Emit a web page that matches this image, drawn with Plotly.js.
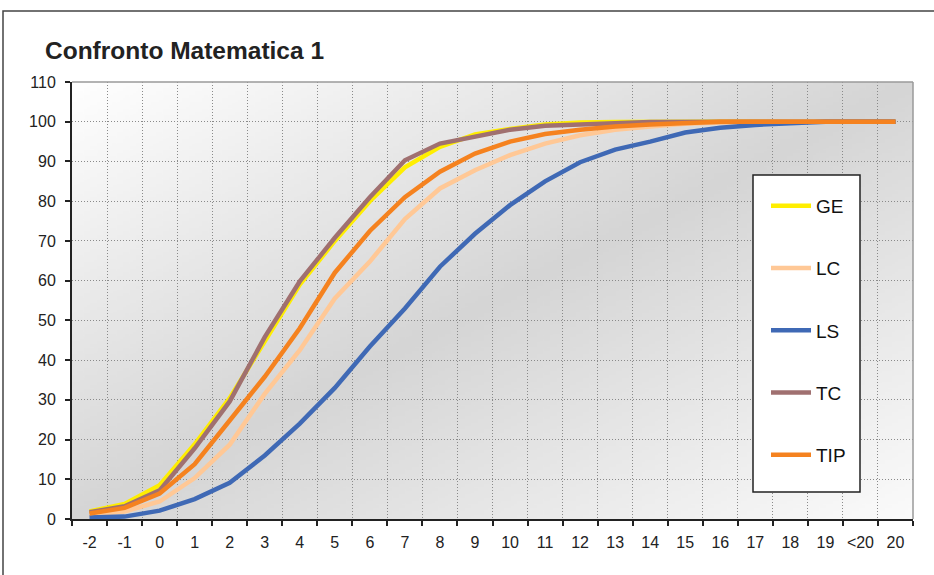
<!DOCTYPE html>
<html>
<head>
<meta charset="utf-8">
<script src="https://cdn.plot.ly/plotly-3.0.1.min.js"></script>
<style>
  html, body { margin: 0; padding: 0; background: #ffffff; }
  #chart { width: 934px; height: 575px; }
</style>
</head>
<body>
<div id="chart"></div>
<script>
// ---- Data ----
const categories = ['-2','-1','0','1','2','3','4','5','6','7','8','9','10','11','12','13','14','15','16','17','18','19','<20','20'];
const seriesNames = ['GE', 'LC', 'LS', 'TC', 'TIP'];
const GE  = [1.9, 3.8, 8.5, 18.8, 30.4, 44.5, 59.0, 70.0, 80.0, 88.5, 93.7, 96.8, 98.2, 99.3, 99.8, 99.9, 100, 100, 100, 100, 100, 100, 100, 100];
const LC  = [1.1, 1.9, 4.4, 10.3, 18.7, 31.5, 42.5, 55.5, 64.8, 75.5, 83.2, 87.8, 91.6, 94.5, 96.6, 98.0, 98.8, 99.5, 99.8, 100, 100, 100, 100, 100];
const LS  = [0.4, 0.6, 2.1, 5.0, 9.1, 16.0, 24.0, 33.0, 43.4, 53.0, 63.5, 71.8, 79.0, 85.0, 89.8, 93.0, 95.0, 97.3, 98.5, 99.2, 99.6, 100, 100, 100];
const TC  = [1.7, 3.2, 7.2, 17.8, 29.6, 45.8, 59.8, 70.8, 81.0, 90.3, 94.5, 96.3, 98.0, 99.0, 99.4, 99.6, 99.9, 100, 100, 100, 100, 100, 100, 100];
const TIP = [1.4, 2.8, 6.4, 13.8, 24.8, 35.8, 48.0, 62.0, 72.5, 81.0, 87.4, 92.0, 95.0, 96.9, 98.0, 98.8, 99.3, 99.7, 100, 100, 100, 100, 100, 100];
const seriesValues = [GE, LC, LS, TC, TIP];
const seriesColors = ['#ffee00', '#ffc896', '#3f69b5', '#a07070', '#f5821f'];
const yTickVals = [0,10,20,30,40,50,60,70,80,90,100,110];
const titleText = 'Confronto Matematica 1';

// ---- Background gradient (plot area) ----
function gradientURL() {
  const c = document.createElement('canvas');
  c.width = 256; c.height = 256;
  const g = c.getContext('2d');
  const gr = g.createLinearGradient(0, 0, 256, 256);
  gr.addColorStop(0, '#ffffff');
  gr.addColorStop(0.5, '#d5d5d5');
  gr.addColorStop(1, '#fbfbfb');
  g.fillStyle = gr;
  g.fillRect(0, 0, 256, 256);
  return c.toDataURL('image/png');
}

const FONT = 'Liberation Sans, Arial, sans-serif';

const traces = seriesNames.map((name, i) => ({
  type: 'scatter',
  mode: 'lines',
  name: name,
  legendgroup: name,
  x: categories,
  y: seriesValues[i],
  line: { color: seriesColors[i], width: 4.5 },
  hoverinfo: 'x+y+name'
}));

// plot area in pixels: left 72, right 913, top 82, bottom 519
const L = 72, R = 913, T = 82, B = 519;
const W = R - L, H = B - T;
const px = v => (v - L) / W;
const py = v => (B - v) / H;

const layout = {
  width: 934,
  height: 575,
  margin: { l: L, r: 934 - R, t: T, b: 575 - B, pad: 0 },
  paper_bgcolor: '#ffffff',
  plot_bgcolor: 'rgba(0,0,0,0)',
  font: { family: FONT, color: '#222222', size: 16 },
  title: {
    text: '<b>' + titleText + '</b>',
    font: { family: FONT, size: 24.5, color: '#222222' },
    xref: 'container', yref: 'container',
    x: 45 / 934, xanchor: 'left',
    y: 1 - 50 / 575, yanchor: 'middle'
  },
  xaxis: {
    type: 'category',
    categoryorder: 'array',
    categoryarray: categories,
    range: [-0.5, categories.length - 0.5],
    tickson: 'boundaries',
    tickangle: 0,
    ticks: 'outside',
    ticklen: 5,
    tickwidth: 1.5,
    tickcolor: '#222222',
    showline: true,
    linecolor: '#222222',
    linewidth: 2,
    showgrid: true,
    gridcolor: '#8a8a8a',
    gridwidth: 1,
    griddash: '1px,2px',
    zeroline: false,
    tickfont: { family: FONT, size: 16, color: '#222222' },
    ticklabelstandoff: 8,
    fixedrange: true
  },
  yaxis: {
    range: [0, 110],
    tickvals: yTickVals,
    ticktext: yTickVals.map(String),
    ticks: 'outside',
    ticklen: 5,
    tickwidth: 1.5,
    tickcolor: '#222222',
    showline: true,
    linecolor: '#222222',
    linewidth: 2,
    showgrid: true,
    gridcolor: '#8a8a8a',
    gridwidth: 1,
    griddash: '1px,2px',
    zeroline: false,
    tickfont: { family: FONT, size: 16, color: '#222222' },
    ticklabelstandoff: 6,
    fixedrange: true
  },
  showlegend: true,
  legend: {
    x: px(766),
    y: py(187),
    xanchor: 'left',
    yanchor: 'top',
    bgcolor: 'rgba(0,0,0,0)',
    borderwidth: 0,
    font: { family: FONT, size: 19, color: '#111111' },
    tracegroupgap: 34.5,
    itemwidth: 40,
    itemclick: false,
    itemdoubleclick: false
  },
  images: [{
    source: gradientURL(),
    xref: 'paper', yref: 'paper',
    x: 0, y: 1, sizex: 1, sizey: 1,
    xanchor: 'left', yanchor: 'top',
    sizing: 'stretch',
    layer: 'below'
  }],
  shapes: [
    { type: 'line', xref: 'paper', yref: 'paper', x0: 0, x1: 1, y0: 1, y1: 1, line: { color: '#9a9a9a', width: 1.5 }, layer: 'above' },
    { type: 'line', xref: 'paper', yref: 'paper', x0: 1, x1: 1, y0: 0, y1: 1, line: { color: '#9a9a9a', width: 1.5 }, layer: 'above' },
    { type: 'rect', xref: 'paper', yref: 'paper', x0: px(753), x1: px(860), y0: py(492), y1: py(175), fillcolor: '#ffffff', line: { color: '#222222', width: 1.5 }, layer: 'above' },
    { type: 'rect', xref: 'paper', yref: 'paper', x0: px(3), x1: px(945), y0: py(590), y1: py(11), fillcolor: 'rgba(0,0,0,0)', line: { color: '#444444', width: 1.5 }, layer: 'above' }
  ]
};

Plotly.newPlot('chart', traces, layout, { displayModeBar: false, staticPlot: false, responsive: false });
</script>
</body>
</html>
